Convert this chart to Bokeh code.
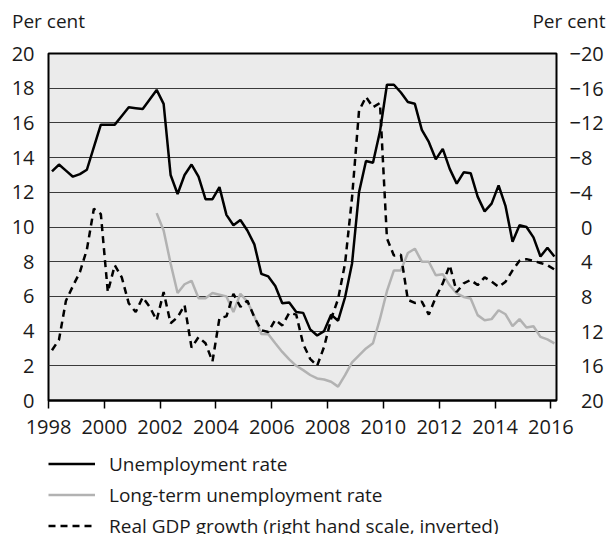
import numpy as np
from bokeh.plotting import figure
from bokeh.layouts import column
from bokeh.models import (Range1d, LinearAxis, FixedTicker, Legend, LegendItem,
                          ColumnDataSource)
from bokeh.embed import file_html
from bokeh.resources import INLINE

# ---------------- data (quarterly, 1998Q1 - 2016Q1) ----------------
quarters = [f"{y}Q{q}" for y in range(1998, 2016) for q in range(1, 5)] + ["2016Q1"]

unemployment = [
    13.2, 13.6, 13.25, 12.9,     # 1998
    13.05, 13.3, 14.6, 15.9,     # 1999
    15.9, 15.9, 16.4, 16.9,      # 2000
    16.85, 16.8, 17.35, 17.9,    # 2001
    17.1, 13.0, 11.9, 13.0,      # 2002
    13.6, 12.9, 11.6, 11.6,      # 2003
    12.3, 10.7, 10.1, 10.4,      # 2004
    9.8, 9.0, 7.3, 7.15,         # 2005
    6.6, 5.6, 5.65, 5.1,         # 2006
    5.05, 4.1, 3.75, 4.0,        # 2007
    4.95, 4.6, 5.95, 7.9,        # 2008
    12.0, 13.8, 13.7, 15.5,      # 2009
    18.2, 18.2, 17.75, 17.2,     # 2010
    17.1, 15.6, 14.9, 13.9,      # 2011
    14.5, 13.35, 12.5, 13.15,    # 2012
    13.1, 11.75, 10.9, 11.35,    # 2013
    12.4, 11.2, 9.15, 10.1,      # 2014
    10.0, 9.4, 8.3, 8.8,         # 2015
    8.3,                         # 2016
]

long_term_unemployment = [np.nan] * 15 + [
    10.8,                        # 2001Q4
    9.8, 7.9, 6.2, 6.7,          # 2002
    6.9, 5.9, 5.9, 6.2,          # 2003
    6.1, 6.0, 5.1, 6.15,         # 2004
    5.7, 4.85, 3.83, 3.82,       # 2005
    3.3, 2.8, 2.37, 2.0,         # 2006
    1.75, 1.47, 1.27, 1.21,      # 2007
    1.08, 0.8, 1.46, 2.2,        # 2008
    2.6, 3.0, 3.3, 4.7,          # 2009
    6.3, 7.5, 7.5, 8.5,          # 2010
    8.75, 8.0, 8.0, 7.22,        # 2011
    7.28, 6.64, 6.17, 5.97,      # 2012
    5.88, 4.92, 4.63, 4.69,      # 2013
    5.2, 4.97, 4.28, 4.69,       # 2014
    4.21, 4.28, 3.67, 3.52,      # 2015
    3.29,                        # 2016
]

gdp_growth = [
    14.2, 13.0, 8.5, 6.8,        # 1998
    5.2, 2.6, -2.1, -1.5,        # 1999
    7.5, 4.4, 5.8, 8.8,          # 2000
    9.8, 8.1, 9.2, 10.75,        # 2001
    7.5, 11.1, 10.4, 9.0,        # 2002
    13.9, 12.7, 13.4, 15.5,      # 2003
    10.5, 10.3, 7.7, 9.2,        # 2004
    8.5, 10.4, 11.9, 12.1,       # 2005
    10.7, 11.35, 9.9, 10.1,      # 2006
    13.5, 15.2, 16.0, 13.8,      # 2007
    10.6, 8.3, 4.2, -3.4,        # 2008
    -13.4, -15.0, -13.8, -14.3,  # 2009
    1.3, 3.3, 3.2, 8.4,          # 2010
    8.75, 8.6, 10.1, 8.1,        # 2011
    6.5, 4.4, 7.5, 6.5,          # 2012
    6.1, 6.7, 5.8, 6.3,          # 2013
    6.9, 6.3, 5.0, 3.9,          # 2014
    3.7, 3.9, 4.15, 4.4,         # 2015
    4.9,                         # 2016
]

series_names = ["Unemployment rate", "Long-term unemployment rate",
                "Real GDP growth (right hand scale, inverted)"]
year_ticks = list(range(1998, 2017, 2))
left_ticks = list(range(0, 21, 2))
right_ticks = list(range(-20, 21, 4))
# minus sign for negatives, figure space keeps the digits lined up
right_tick_labels = {t: (f"\u2212{abs(t)}" if t < 0 else f"\u2007{t}") for t in right_ticks}
unit_label = "Per cent"

X_START, X_END = 1998, 2016.2
Y_MIN, Y_MAX = 0, 20
G_TOP, G_BOTTOM = -20, 20

FONT = "Open Sans"
TXT = "#1a1a1a"
W = 609
MAIN_H = 446
LEG_H = 99

# quarter mid-points in decimal years
xq = [int(s[:4]) + (int(s[5]) - 0.5) / 4 for s in quarters]
src = ColumnDataSource(dict(x=xq, u=unemployment, lt=long_term_unemployment, g=gdp_growth))

# ---------- main chart ----------
p = figure(width=W, height=MAIN_H, output_backend="svg", toolbar_location=None,
           x_range=Range1d(X_START, X_END), y_range=Range1d(Y_MIN, Y_MAX),
           min_border_left=48, min_border_right=53, min_border_top=53,
           min_border_bottom=46)
p.extra_y_ranges = {"gdp": Range1d(G_BOTTOM, G_TOP)}

p.background_fill_color = "#ebebeb"
p.border_fill_color = "white"
p.outline_line_color = "black"
p.outline_line_width = 2

# grid
p.xgrid.visible = False
p.ygrid.ticker = FixedTicker(ticks=left_ticks)
p.ygrid.grid_line_color = "#3a3a3a"
p.ygrid.grid_line_width = 1

# x axis
xa = p.xaxis[0]
xa.ticker = FixedTicker(ticks=year_ticks)
xa.major_tick_out = 8
xa.major_tick_in = 0
xa.minor_tick_out = 0
xa.minor_tick_in = 0
xa.major_tick_line_color = "black"
xa.major_tick_line_width = 1.5
xa.axis_line_color = "black"
xa.axis_line_width = 2
xa.major_label_text_font = FONT
xa.major_label_text_font_size = "20px"
xa.major_label_text_color = TXT
xa.major_label_standoff = 11

# left axis
ya = p.yaxis[0]
ya.ticker = FixedTicker(ticks=left_ticks)
ya.major_tick_out = 0
ya.major_tick_in = 0
ya.minor_tick_out = 0
ya.minor_tick_in = 0
ya.axis_line_color = None
ya.major_label_text_font = FONT
ya.major_label_text_font_size = "20px"
ya.major_label_text_color = TXT
ya.major_label_standoff = 14

# right axis (inverted GDP scale)
ra = LinearAxis(y_range_name="gdp", ticker=FixedTicker(ticks=right_ticks),
                major_label_overrides=right_tick_labels)
ra.major_tick_out = 0
ra.major_tick_in = 0
ra.minor_tick_out = 0
ra.minor_tick_in = 0
ra.axis_line_color = None
ra.major_label_text_font = FONT
ra.major_label_text_font_size = "20px"
ra.major_label_text_color = TXT
ra.major_label_standoff = 13
p.add_layout(ra, "right")

# unit labels above both vertical axes (an unmarked top axis)
ua = LinearAxis(ticker=FixedTicker(ticks=[X_START, X_END]),
                major_label_overrides={X_START: unit_label,
                                       X_END: "\u2007\u2007\u2009" + unit_label})
ua.major_tick_out = 0
ua.major_tick_in = 0
ua.minor_tick_out = 0
ua.minor_tick_in = 0
ua.axis_line_color = None
ua.major_label_text_font = FONT
ua.major_label_text_font_size = "19px"
ua.major_label_text_color = TXT
ua.major_label_standoff = 20
p.add_layout(ua, "above")

# series
p.line("x", "u", source=src, line_color="black", line_width=2.5)
p.line("x", "lt", source=src, line_color="#b2b2b2", line_width=2.5)
p.line("x", "g", source=src, y_range_name="gdp", line_color="black",
       line_width=2.5, line_dash="7 5")

# ---------- legend strip ----------
leg = figure(width=W, height=LEG_H, output_backend="svg", toolbar_location=None,
             x_range=Range1d(0, 1), y_range=Range1d(0, 1),
             min_border_left=48, min_border_right=53, min_border_top=0,
             min_border_bottom=0, x_axis_type=None, y_axis_type=None)
leg.outline_line_color = None
leg.xgrid.visible = False
leg.ygrid.visible = False
leg.background_fill_color = "white"
leg.border_fill_color = "white"
# legend keys only (single empty point each, nothing is drawn in the strip)
k_u = leg.line(x=[np.nan], y=[np.nan], line_color="black", line_width=2.5)
k_lt = leg.line(x=[np.nan], y=[np.nan], line_color="#b2b2b2", line_width=2.5)
k_g = leg.line(x=[np.nan], y=[np.nan], line_color="black", line_width=2.5,
               line_dash="7 5")

legend = Legend(items=[
    LegendItem(label=series_names[0], renderers=[k_u]),
    LegendItem(label=series_names[1], renderers=[k_lt]),
    LegendItem(label=series_names[2], renderers=[k_g]),
], location=(0, 6), orientation="vertical",
    glyph_width=47, glyph_height=27, label_height=27, label_standoff=14,
    spacing=4, padding=0, margin=0, border_line_alpha=0, background_fill_alpha=0,
    label_text_font=FONT, label_text_font_size="19px", label_text_color=TXT)
leg.add_layout(legend, "center")

layout = column(p, leg, spacing=0)
open("out.html", "w").write(file_html(layout, INLINE))
